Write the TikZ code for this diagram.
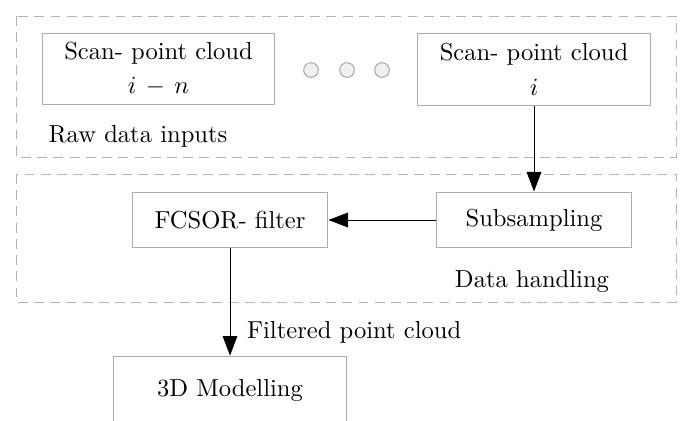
\documentclass[tikz,border=0pt]{standalone}
\usetikzlibrary{arrows.meta,positioning}
\begin{document}
\begin{tikzpicture}[x=0.0143cm, y=-0.0143cm,
		block/.style={draw=gray!65, minimum width=3.33cm, minimum height=1.02cm, align=center},
		smallblock/.style={draw=gray!65, minimum width=2.8cm, minimum height=0.8cm},
		group/.style={draw=gray!60, dash pattern=on 4pt off 2.6pt},
		dot/.style={circle, draw=gray!70, fill=gray!12, minimum size=0.21cm, inner sep=0pt},
		flow/.style={-{Triangle[length=2.8mm, width=2.1mm]}}]
		\useasboundingbox (0, 0) rectangle (682, 420);

		% groups
		\draw[group] (16, 16) rectangle (676, 157);
		\draw[group] (16, 174) rectangle (676, 302);
		\node at (138, 136) (raw) {Raw data inputs};
		\node at (532, 281) (handling) {Data handling};

		\node[block] at (158.5, 69) (scann) {Scan- point cloud\\[2pt]$i\,-\,n$};
		\node[dot] at (311, 70) (d1) {};
		\node[dot] at (347, 70) (d2) {};
		\node[dot] at (382, 70) (d3) {};
		\node[block] at (534, 69.5) (scani) {Scan- point cloud\\[2pt]$i$};

		\node[smallblock] at (534, 220) (sub) {Subsampling};
		\node[smallblock] at (230, 220) (fcsor) {FCSOR- filter};
		\node[block, minimum height=0.97cm] at (230, 390) (model) {3D Modelling};

		\path
		(scani) edge[flow] (sub)
		(sub) edge[flow] (fcsor)
		(fcsor) edge[flow] node[right=1.2mm, pos=0.78] {Filtered point cloud} (model);
	\end{tikzpicture}
\end{document}
